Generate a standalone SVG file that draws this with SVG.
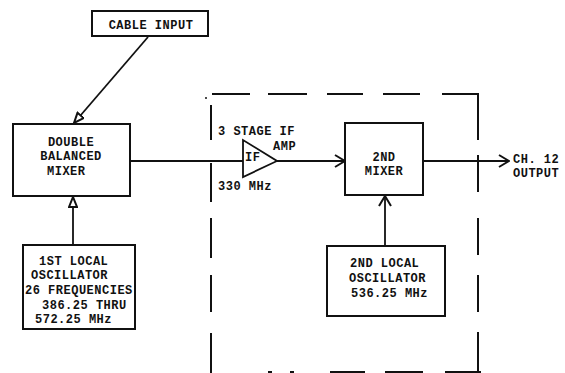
<svg xmlns="http://www.w3.org/2000/svg" width="565" height="373" viewBox="0 0 565 373">
<defs>
<style>
.box{fill:#fff;stroke:#111;stroke-width:2}
.ln{fill:none;stroke:#111;stroke-width:1.8}
.dash{fill:none;stroke:#111;stroke-width:2}
text{font-family:"Liberation Mono","Courier New",monospace;font-weight:bold;font-size:12px;letter-spacing:0.5px;fill:#111}
</style>
<marker id="hollow" viewBox="0 0 12 10" refX="11" refY="5" markerWidth="12" markerHeight="10" markerUnits="userSpaceOnUse" orient="auto">
<path d="M1,1 L11,5 L1,9 Z" fill="#fff" stroke="#111" stroke-width="2"/>
</marker>
<marker id="vee" viewBox="0 0 12 14" refX="11" refY="7" markerWidth="12" markerHeight="14" markerUnits="userSpaceOnUse" orient="auto">
<path d="M1,1 L11,7 L1,13" fill="none" stroke="#111" stroke-width="2"/>
</marker>
</defs>
<rect width="565" height="373" fill="#fff"/>

<g id="dashed-boundary" class="dash">
<path d="M212,94 H250 M268,94 H307 M327,94 H363 M383,94 H420 M442,94 H478"/>
<path d="M478,93 V140 M478,155 V192 M478,218 V255 M478,275 V312 M478,332 V371"/>
<path d="M211,105 V140 M211,163 V202 M211,218 V258 M211,275 V312 M211,333 V373"/>
<path d="M330,372 H365 M385,372 H423 M445,372 H481 M268,372 H272 M290,372 H294"/>
<circle cx="206" cy="98" r="1" fill="#111" stroke="none"/>
</g>

<g id="connectors">
<line class="ln" x1="148" y1="37" x2="74" y2="123" marker-end="url(#hollow)"/>
<line class="ln" x1="73" y1="245" x2="73" y2="197" marker-end="url(#hollow)"/>
<line class="ln" x1="130" y1="161" x2="243" y2="161"/>
<line class="ln" x1="277" y1="161" x2="345" y2="161" marker-end="url(#vee)"/>
<line class="ln" x1="423" y1="161" x2="509" y2="161" marker-end="url(#vee)"/>
<line class="ln" x1="385" y1="246" x2="385" y2="196" marker-end="url(#vee)"/>
</g>

<g id="cable-input">
<rect class="box" x="92" y="11" width="116" height="25"/>
<text x="151" y="28.5" text-anchor="middle">CABLE INPUT</text>
</g>

<g id="double-balanced-mixer">
<rect class="box" x="13" y="124" width="117" height="72"/>
<text x="71" y="146" text-anchor="middle">DOUBLE</text>
<text x="71" y="160" text-anchor="middle">BALANCED</text>
<text x="47" y="175">MIXER</text>
</g>

<g id="first-local-oscillator">
<rect class="box" x="23" y="245" width="112" height="84"/>
<text x="39" y="265">1ST LOCAL</text>
<text x="31" y="279">OSCILLATOR</text>
<text x="25" y="294">26 FREQUENCIES</text>
<text x="42" y="309">386.25 THRU</text>
<text x="35" y="323">572.25 MHz</text>
</g>

<g id="if-amp">
<path d="M243,140 L243,177 L277,161 Z" fill="#fff" stroke="#111" stroke-width="1.8"/>
<text x="245" y="161">IF</text>
<text x="218" y="135">3 STAGE IF</text>
<text x="273" y="150">AMP</text>
<text x="218" y="190">330 MHz</text>
</g>

<g id="second-mixer">
<rect class="box" x="345" y="123" width="78" height="72"/>
<text x="384" y="161" text-anchor="middle">2ND</text>
<text x="384" y="175" text-anchor="middle">MIXER</text>
</g>

<g id="second-local-oscillator">
<rect class="box" x="327" y="246" width="118" height="70"/>
<text x="350" y="267">2ND LOCAL</text>
<text x="349" y="282">OSCILLATOR</text>
<text x="351" y="297">536.25 MHz</text>
</g>

<g id="output">
<text x="513" y="163">CH. 12</text>
<text x="513" y="177">OUTPUT</text>
</g>
</svg>
